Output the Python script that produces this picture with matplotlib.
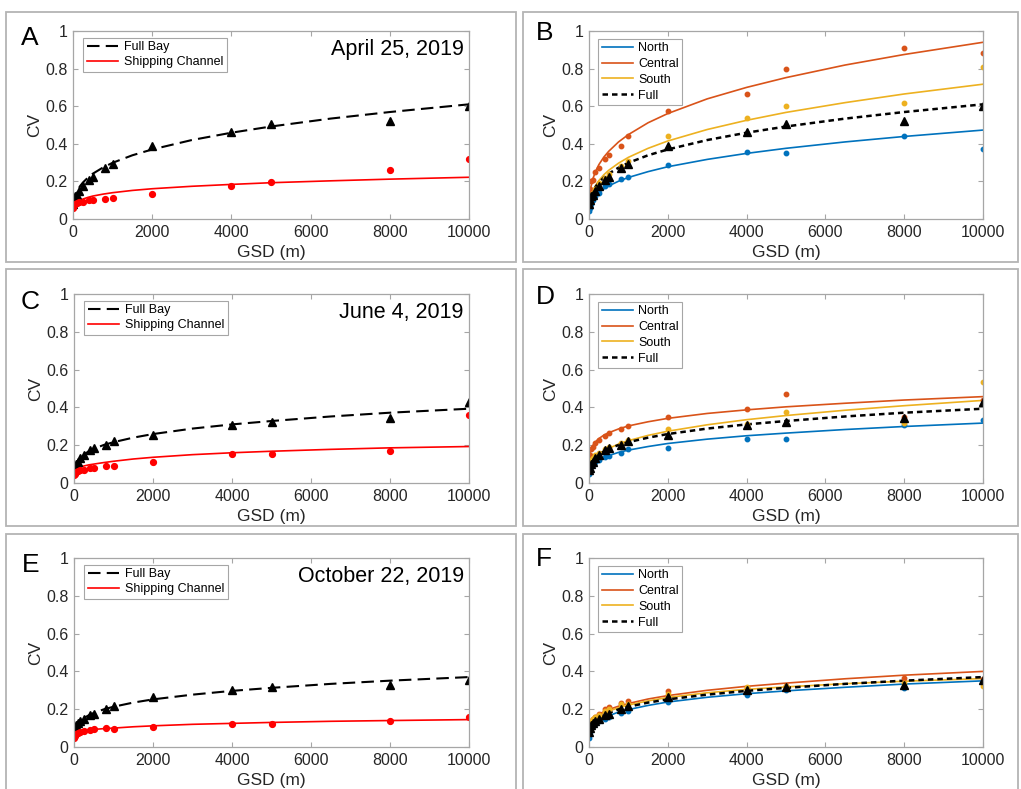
import matplotlib
matplotlib.use("Agg")
import matplotlib.pyplot as plt
from matplotlib.patches import Rectangle

plt.rcParams['font.family'] = ['Liberation Sans', 'DejaVu Sans']

# ---------------- data ----------------
gsd = [10, 30, 60, 100, 150, 250, 400, 500, 800, 1000, 2000, 4000, 5000, 8000, 10000]
fit_gsd = [10, 25, 50, 100, 175, 250, 375, 500, 750, 1000, 1500, 2000, 3000, 4000, 5000, 6500, 8000, 10000]

dates = ["April 25, 2019", "June 4, 2019", "October 22, 2019"]
left_letters = ["A", "C", "E"]
right_letters = ["B", "D", "F"]

# April 25, 2019
apr_full_pts = [0.08, 0.10, 0.12, 0.13, 0.15, 0.175, 0.21, 0.225, 0.27, 0.29, 0.39, 0.465, 0.505, 0.52, 0.60]
apr_full_fit = [0.072, 0.095, 0.118, 0.146, 0.174, 0.194, 0.220, 0.241, 0.273, 0.299, 0.339, 0.370, 0.420, 0.459, 0.492, 0.534, 0.569, 0.610]
apr_ship_pts = [0.06, 0.075, 0.08, 0.085, 0.088, 0.092, 0.099, 0.10, 0.104, 0.113, 0.133, 0.177, 0.196, 0.258, 0.32]
apr_ship_fit = [0.065, 0.072, 0.078, 0.088, 0.099, 0.106, 0.115, 0.122, 0.132, 0.14, 0.152, 0.161, 0.174, 0.184, 0.193, 0.203, 0.212, 0.222]
apr_north_pts = [0.04, 0.06, 0.08, 0.10, 0.12, 0.14, 0.175, 0.185, 0.215, 0.225, 0.285, 0.355, 0.35, 0.44, 0.375]
apr_north_fit = [0.048, 0.065, 0.082, 0.103, 0.124, 0.140, 0.160, 0.176, 0.201, 0.221, 0.252, 0.278, 0.317, 0.349, 0.376, 0.410, 0.439, 0.473]
apr_central_pts = [0.12, 0.16, 0.20, 0.21, 0.25, 0.27, 0.32, 0.34, 0.39, 0.44, 0.575, 0.665, 0.80, 0.91, 0.885]
apr_central_fit = [0.103, 0.138, 0.172, 0.215, 0.257, 0.289, 0.329, 0.360, 0.410, 0.449, 0.512, 0.561, 0.639, 0.700, 0.752, 0.819, 0.875, 0.94]
apr_south_pts = [0.08, 0.10, 0.12, 0.14, 0.16, 0.19, 0.22, 0.24, 0.28, 0.31, 0.44, 0.535, 0.60, 0.615, 0.81]
apr_south_fit = [0.069, 0.093, 0.118, 0.150, 0.181, 0.204, 0.235, 0.259, 0.297, 0.328, 0.376, 0.415, 0.476, 0.525, 0.567, 0.619, 0.665, 0.717]

# June 4, 2019
jun_full_pts = [0.07, 0.08, 0.10, 0.11, 0.13, 0.15, 0.175, 0.185, 0.20, 0.22, 0.255, 0.305, 0.325, 0.345, 0.43]
jun_full_fit = [0.065, 0.083, 0.099, 0.119, 0.138, 0.151, 0.168, 0.181, 0.201, 0.216, 0.240, 0.259, 0.288, 0.310, 0.328, 0.352, 0.372, 0.393]
jun_ship_pts = [0.04, 0.05, 0.06, 0.065, 0.07, 0.07, 0.08, 0.08, 0.09, 0.09, 0.11, 0.155, 0.155, 0.17, 0.36]
jun_ship_fit = [0.055, 0.063, 0.07, 0.078, 0.085, 0.09, 0.096, 0.10, 0.108, 0.115, 0.127, 0.136, 0.15, 0.16, 0.168, 0.178, 0.186, 0.193]
jun_north_pts = [0.05, 0.07, 0.09, 0.10, 0.11, 0.12, 0.14, 0.145, 0.16, 0.18, 0.185, 0.235, 0.235, 0.305, 0.335]
jun_north_fit = [0.053, 0.067, 0.080, 0.096, 0.111, 0.121, 0.135, 0.145, 0.162, 0.174, 0.193, 0.209, 0.232, 0.250, 0.264, 0.283, 0.299, 0.317]
jun_central_pts = [0.12, 0.15, 0.18, 0.19, 0.21, 0.23, 0.25, 0.265, 0.285, 0.30, 0.35, 0.39, 0.47, 0.35, 0.44]
jun_central_fit = [0.132, 0.155, 0.176, 0.199, 0.220, 0.235, 0.253, 0.266, 0.286, 0.302, 0.324, 0.342, 0.368, 0.387, 0.403, 0.422, 0.439, 0.457]
jun_south_pts = [0.08, 0.10, 0.12, 0.13, 0.15, 0.16, 0.18, 0.19, 0.21, 0.23, 0.285, 0.31, 0.375, 0.32, 0.535]
jun_south_fit = [0.059, 0.077, 0.094, 0.115, 0.135, 0.150, 0.169, 0.183, 0.206, 0.224, 0.252, 0.274, 0.308, 0.335, 0.357, 0.385, 0.409, 0.437]

# October 22, 2019
oct_full_pts = [0.08, 0.10, 0.115, 0.125, 0.135, 0.15, 0.17, 0.175, 0.20, 0.215, 0.265, 0.30, 0.315, 0.33, 0.355]
oct_full_fit = [0.071, 0.088, 0.104, 0.123, 0.140, 0.153, 0.168, 0.180, 0.199, 0.213, 0.235, 0.252, 0.277, 0.297, 0.313, 0.334, 0.351, 0.370]
oct_ship_pts = [0.05, 0.06, 0.07, 0.075, 0.08, 0.085, 0.09, 0.095, 0.098, 0.097, 0.108, 0.12, 0.122, 0.135, 0.16]
oct_ship_fit = [0.06, 0.066, 0.072, 0.078, 0.083, 0.086, 0.09, 0.093, 0.097, 0.10, 0.107, 0.112, 0.12, 0.125, 0.13, 0.136, 0.14, 0.145]
oct_north_pts = [0.05, 0.08, 0.10, 0.11, 0.12, 0.14, 0.15, 0.16, 0.18, 0.19, 0.24, 0.275, 0.30, 0.31, 0.345]
oct_north_fit = [0.06, 0.08, 0.095, 0.11, 0.13, 0.14, 0.155, 0.165, 0.185, 0.198, 0.22, 0.238, 0.263, 0.282, 0.297, 0.316, 0.333, 0.35]
oct_central_pts = [0.09, 0.12, 0.14, 0.15, 0.16, 0.175, 0.20, 0.21, 0.235, 0.245, 0.295, 0.31, 0.325, 0.365, 0.36]
oct_central_fit = [0.09, 0.11, 0.125, 0.143, 0.16, 0.173, 0.187, 0.198, 0.216, 0.23, 0.254, 0.272, 0.30, 0.321, 0.338, 0.361, 0.38, 0.40]
oct_south_pts = [0.10, 0.12, 0.14, 0.15, 0.16, 0.17, 0.19, 0.20, 0.225, 0.23, 0.28, 0.32, 0.325, 0.34, 0.325]
oct_south_fit = [0.10, 0.118, 0.13, 0.145, 0.16, 0.17, 0.181, 0.19, 0.208, 0.222, 0.244, 0.262, 0.287, 0.305, 0.318, 0.335, 0.348, 0.362]

full_pts = [apr_full_pts, jun_full_pts, oct_full_pts]
full_fit = [apr_full_fit, jun_full_fit, oct_full_fit]
ship_pts = [apr_ship_pts, jun_ship_pts, oct_ship_pts]
ship_fit = [apr_ship_fit, jun_ship_fit, oct_ship_fit]
north_pts = [apr_north_pts, jun_north_pts, oct_north_pts]
north_fit = [apr_north_fit, jun_north_fit, oct_north_fit]
central_pts = [apr_central_pts, jun_central_pts, oct_central_pts]
central_fit = [apr_central_fit, jun_central_fit, oct_central_fit]
south_pts = [apr_south_pts, jun_south_pts, oct_south_pts]
south_fit = [apr_south_fit, jun_south_fit, oct_south_fit]

# ---------------- styling ----------------
W, H = 1021, 789
C_NORTH = "#0072BD"
C_CENTRAL = "#D95319"
C_SOUTH = "#EDB120"
SPINE = "#A6A6A6"
TXT = "#262626"

fig = plt.figure(figsize=(W / 100, H / 100), dpi=100)

# panel boxes (pixel coords)
boxes = [(6, 12, 516, 262), (523, 12, 1018, 262),
         (6, 269, 516, 526), (523, 269, 1018, 526),
         (6, 534, 516, 800), (523, 534, 1018, 800)]
for (x0, y0, x1, y1) in boxes:
    fig.patches.append(Rectangle((x0 / W, 1 - y1 / H), (x1 - x0) / W, (y1 - y0) / H,
                                 transform=fig.transFigure, fill=False,
                                 edgecolor="#B4B4B4", linewidth=1.3))

# axes pixel extents (left, right, top, bottom)
left_axes = [(73, 469, 31, 219), (74, 469, 294, 483), (74, 469, 558, 747)]
right_axes = [(589, 983, 31, 219), (589, 983, 294, 483), (589, 983, 558, 747)]
left_letter_pos = [(21, 45), (21, 309), (22, 572)]
right_letter_pos = [(536, 40), (536, 304), (536, 566)]


def make_axes(ext):
    l, r, t, b = ext
    ax = fig.add_axes([l / W, 1 - b / H, (r - l) / W, (b - t) / H])
    ax.set_xlim(0, 10000)
    ax.set_ylim(0, 1)
    ax.set_xticks([0, 2000, 4000, 6000, 8000, 10000])
    ax.set_yticks([0, 0.2, 0.4, 0.6, 0.8, 1])
    ax.set_yticklabels(["0", "0.2", "0.4", "0.6", "0.8", "1"])
    ax.tick_params(direction="in", top=True, right=True, length=3.5, width=0.8,
                   color=SPINE, labelsize=11.5, labelcolor=TXT, pad=4)
    for s in ax.spines.values():
        s.set_color(SPINE)
        s.set_linewidth(0.9)
    ax.set_xlabel("GSD (m)", fontsize=12.5, color=TXT, labelpad=4)
    ax.set_ylabel("CV", fontsize=12.5, color=TXT, labelpad=2)
    return ax


for i in range(3):
    # left: Full Bay vs Shipping Channel
    ax = make_axes(left_axes[i])
    ax.plot(fit_gsd, full_fit[i], color="black", ls=(0, (6, 3)), lw=1.5, label="Full Bay")
    ax.plot(fit_gsd, ship_fit[i], color="#FF0000", lw=1.2, label="Shipping Channel")
    ax.plot(gsd, full_pts[i], ls="none", marker="^", ms=6, color="black")
    ax.plot(gsd, ship_pts[i], ls="none", marker="o", ms=4.2, color="#FF0000")
    leg = ax.legend(loc="upper left", bbox_to_anchor=(0.025, 0.965), borderaxespad=0,
                    fontsize=9, fancybox=False, edgecolor=SPINE, framealpha=1,
                    handlelength=2.5, handletextpad=0.5, labelspacing=0.25, borderpad=0.3)
    leg.get_frame().set_linewidth(0.8)
    ax.text(0.987, 0.90, dates[i], transform=ax.transAxes, ha="right", va="center",
            fontsize=15.5, color="black")
    fig.text(left_letter_pos[i][0] / W, 1 - left_letter_pos[i][1] / H, left_letters[i],
             fontsize=19, color="black", ha="left", va="baseline")

    # right: regions
    ax = make_axes(right_axes[i])
    ax.plot(fit_gsd, north_fit[i], color=C_NORTH, lw=1.2, label="North")
    ax.plot(fit_gsd, central_fit[i], color=C_CENTRAL, lw=1.2, label="Central")
    ax.plot(fit_gsd, south_fit[i], color=C_SOUTH, lw=1.2, label="South")
    ax.plot(fit_gsd, full_fit[i], color="black", ls=(0, (2.2, 1.6)), lw=1.8, label="Full")
    ax.plot(gsd, north_pts[i], ls="none", marker="o", ms=3.2, color=C_NORTH)
    ax.plot(gsd, central_pts[i], ls="none", marker="o", ms=3.2, color=C_CENTRAL)
    ax.plot(gsd, south_pts[i], ls="none", marker="o", ms=3.2, color=C_SOUTH)
    ax.plot(gsd, full_pts[i], ls="none", marker="^", ms=6, color="black")
    leg = ax.legend(loc="upper left", bbox_to_anchor=(0.023, 0.96), borderaxespad=0,
                    fontsize=9, fancybox=False, edgecolor=SPINE, framealpha=1,
                    handlelength=2.5, handletextpad=0.4, labelspacing=0.3, borderpad=0.3)
    leg.get_frame().set_linewidth(0.8)
    fig.text(right_letter_pos[i][0] / W, 1 - right_letter_pos[i][1] / H, right_letters[i],
             fontsize=19, color="black", ha="left", va="baseline")

fig.savefig("out.png", dpi=100, facecolor="white")
